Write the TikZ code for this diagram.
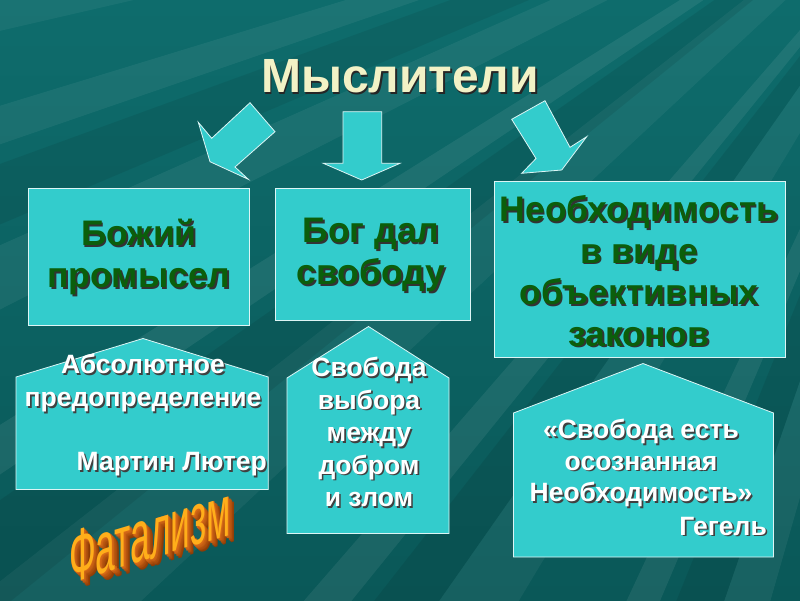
\documentclass[tikz,border=0pt]{standalone}
\usepackage{fontspec}
\setmainfont{Liberation Sans}
\definecolor{bgteal}{HTML}{0E6C6C}
\definecolor{bgdark}{HTML}{0A5858}
\definecolor{boxfill}{HTML}{33CCCC}
\definecolor{boxline}{HTML}{DDF5F5}
\definecolor{dgreen}{HTML}{0B5E0B}
\definecolor{titlecol}{HTML}{F2F2C6}
\definecolor{fatA}{HTML}{7A2E00}
\definecolor{fatB}{HTML}{E0701A}
\definecolor{fatF}{HTML}{FFAE1A}
% one line of text with a drop shadow (#1 shadow colour, #2 text)
\newcommand\shl[2]{\leavevmode\rlap{\kern1.6pt\raisebox{-1.6pt}{\color{#1}#2}}#2}
% extruded word
\newcommand\extr[1]{\leavevmode\foreach \i in {9,...,1}{\pgfmathtruncatemacro\p{100-\i*9}\rlap{\kern0.7\dimexpr\i pt\relax\raisebox{-0.45\dimexpr\i pt\relax}{\color{fatB!\p!fatA}#1}}}{\color{fatF}#1}}
\tikzset{
  box/.style={fill=boxfill, draw=boxline, line width=0.8pt},
  titletxt/.style={font=\bfseries\fontsize{48}{52}\selectfont, text=titlecol, inner sep=0},
  gtxt/.style={font=\bfseries\fontsize{35.5}{41.5}\selectfont, text=dgreen, align=center, inner sep=0},
  wtxt/.style={font=\bfseries\fontsize{26.5}{33}\selectfont, text=white, align=center, inner sep=0},
  fattxt/.style={font=\fontsize{36}{36}\selectfont, inner sep=0, transform shape},
}
\begin{document}
\begin{tikzpicture}[x=1pt, y=-1pt]
\useasboundingbox (0,0) rectangle (800,600);
% background
\shade[top color=bgteal, bottom color=bgdark] (0,0) rectangle (800,600);
\begin{scope}
  \clip (0,0) rectangle (800,600);
  \foreach \a/\w/\o in {106/3/.06, 113/2/.07, 121/4/.05, 129/2/.07, 137/5/.05, 146/2/.07, 153/3/.06, 161/2/.06, 167/3/.05}
    \fill[white, opacity=\o] (1000,-200) -- +(\a:2200) -- +(\a+\w:2200) -- cycle;
  \foreach \a/\w/\o in {109/3/.08, 125/3/.08, 141/4/.08, 157/3/.07}
    \fill[black, opacity=\o] (1000,-200) -- +(\a:2200) -- +(\a+\w:2200) -- cycle;
\end{scope}
% title
\node[titletxt] (title) at (400,77) {\shl{black!85}{Мыслители}};
% arrows
\draw[box] (250,102.7) -- (275,131.7) -- (235,167) -- (248.3,179.3) -- (210,161.7) -- (198.3,122.3) -- (211.7,138.3) -- cycle;
\draw[box] (343,111.7) -- (381.7,111.7) -- (381.7,163.3) -- (400,163.3) -- (361.7,180) -- (323.3,163.3) -- (343,163.3) -- cycle;
\draw[box] (511.7,119.3) -- (545,100.7) -- (570,147.3) -- (586.7,136.7) -- (561.7,170) -- (521.7,173.3) -- (536,158.5) -- cycle;
% boxes
\draw[box] (28,188) rectangle (249,325);
\draw[box] (275,188) rectangle (470,320);
\draw[box] (494.5,181) rectangle (785.5,357.5);
% pentagons
\draw[box] (143,338.5) -- (268.3,377) -- (268.3,489.5) -- (16,489.5) -- (16,377) -- cycle;
\draw[box] (368.5,326.5) -- (449,378) -- (449,533.5) -- (287,533.5) -- (287,378) -- cycle;
\draw[box] (643,363.5) -- (773.5,413) -- (773.5,557) -- (513.5,557) -- (513.5,413) -- cycle;
% box texts
\node[gtxt] (t1) at (139,258) {\shl{black!80}{Божий}\\\shl{black!80}{промысел}};
\node[gtxt] (t2) at (371,256) {\shl{black!80}{Бог дал}\\\shl{black!80}{свободу}};
\node[gtxt] (t3) at (639,272) {\shl{black!80}{Необходимость}\\\shl{black!80}{в виде}\\\shl{black!80}{объективных}\\\shl{black!80}{законов}};
% pentagon texts
\node[wtxt] (p1) at (143,384) {\shl{black!75}{Абсолютное}\\\shl{black!75}{предопределение}};
\node[wtxt, anchor=east] (p1b) at (267,465) {\shl{black!75}{Мартин Лютер}};
\node[wtxt, font=\bfseries\fontsize{26.5}{32.5}\selectfont] (p2) at (369,433) {\shl{black!75}{Свобода}\\\shl{black!75}{выбора}\\\shl{black!75}{между}\\\shl{black!75}{добром}\\\shl{black!75}{и злом}};
\node[wtxt, font=\bfseries\fontsize{26.5}{31.5}\selectfont] (p3) at (641,464) {\shl{black!75}{«Свобода есть}\\\shl{black!75}{осознанная}\\\shl{black!75}{Необходимость»}};
\node[wtxt, anchor=east] (p3b) at (767,527) {\shl{black!75}{Гегель}};
% Fatalizm word art
\begin{scope}[shift={(150,538)}, yslant=0.3, xscale=0.98, yscale=2.05]
  \node[fattxt] (fat) at (0,0) {\extr{Фатализм}};
\end{scope}
\end{tikzpicture}
\end{document}
